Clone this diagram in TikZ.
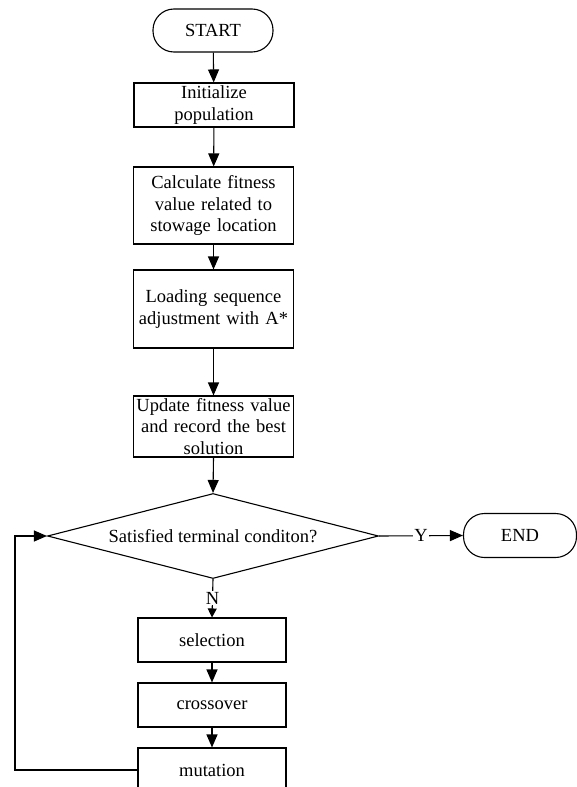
\documentclass[tikz,border=0pt]{standalone}
\usepackage{fontspec}
\setmainfont{Liberation Serif}
\usetikzlibrary{shapes.geometric,arrows.meta}
\begin{document}
\begin{tikzpicture}[x=1pt,y=-1pt,
  every node/.style={font=\fontsize{18.5}{21.5}\selectfont},
  box/.style={draw,line width=1.1pt,rectangle,align=center,inner sep=0pt,text width=160pt},
  term/.style={draw,line width=1.1pt,rectangle,rounded corners=21pt,inner sep=0pt,minimum height=43pt},
  arr/.style={line width=1.1pt,-{Triangle[length=13pt,width=11pt]}},
  sarr/.style={line width=1.1pt,-{Triangle[length=9pt,width=9pt]}},
  lab/.style={fill=white,inner sep=1pt}]
\useasboundingbox (0,0) rectangle (577,787);
\clip (0,0) rectangle (577,787);
\node[term,minimum width=120pt] (start) at (213,30.5) {START};
\node[box,minimum height=44pt] (init) at (214,105) {Initialize\\population};
\node[box,minimum height=77pt] (calc) at (213.5,205.5) {Calculate fitness\\value related to\\stowage location};
\node[box,minimum height=78pt] (load) at (213.5,309) {Loading sequence\\adjustment with A*};
\node[box,minimum height=61pt] (upd) at (213.5,426.5) {Update fitness value\\and record the best\\solution};
\node[draw,line width=1.1pt,diamond,aspect=3.9,inner sep=0pt,minimum width=331pt,minimum height=85pt] (dia) at (213,536) {Satisfied terminal conditon?};
\node[term,minimum width=113pt,minimum height=44pt] (endn) at (520,535.5) {END};
\node[box,text width=148pt,minimum height=44pt] (sel) at (212,640) {selection};
\node[box,text width=148pt,minimum height=44pt] (cro) at (212,705) {crossover};
\node[box,text width=148pt,minimum height=44pt] (mut) at (212,770) {mutation};
\coordinate (fb) at (15,770);
\draw[arr] (start) -- (init);
\draw[arr] (init) -- (calc);
\draw[arr] (calc) -- (load);
\draw[arr] (load) -- (upd);
\draw[arr] (upd.south) -- (dia.north);
\draw[arr] (dia.east) -- node[lab]{Y} (endn.west);
\draw[sarr] (dia.south) -- node[lab]{N} (sel.north);
\draw[arr] (sel) -- (cro);
\draw[arr] (cro) -- (mut);
\draw[arr] (mut.west) -- (fb) |- (dia.west);
\end{tikzpicture}
\end{document}
